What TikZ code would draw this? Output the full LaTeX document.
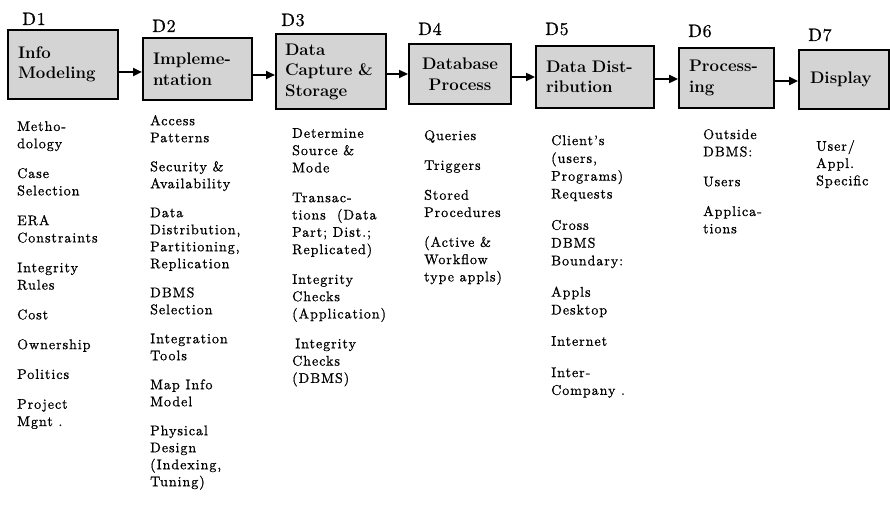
\documentclass[tikz,border=0pt]{standalone}
\usepackage{fontspec}
\usetikzlibrary{arrows.meta}
\newfontfamily\listfont{lmroman10-regular.otf}[LetterSpace=7,FakeBold=0.9]
\newfontfamily\tagfont{lmroman10-regular.otf}[LetterSpace=4,FakeBold=0.6]
\begin{document}
\begin{tikzpicture}[x=1pt,y=-1pt,
  box/.style={draw=black, line width=2pt, fill=black!17, anchor=north west, inner sep=0pt,
    font=\fontsize{16.8}{20.5}\selectfont\bfseries, align=left},
  tag/.style={anchor=base west, inner sep=0pt, font=\tagfont\fontsize{18}{20}\selectfont},
  list/.style={anchor=north west, inner sep=0pt, align=left, font=\listfont\fontsize{14}{17.3}\selectfont,
    execute at begin node=\rule{0pt}{11pt}},
  arr/.style={line width=2.4pt, -{Triangle[length=9pt,width=8pt]}}]
\useasboundingbox (0,0) rectangle (890,516);
\def\g{12.5pt}
% boxes
\node[box, minimum width=110, minimum height=69, text width=90] (d1) at (7,29) {Info\\Modeling};
\node[box, minimum width=109, minimum height=62, text width=89] (d2) at (142,37) {Impleme-\\ntation};
\node[box, minimum width=110, minimum height=75, text width=92] (d3) at (275,33) {Data\\Capture~\&\\Storage};
\node[box, minimum width=102, minimum height=60, text width=82, align=center] (d4) at (408,43) {Database\\Process};
\node[box, minimum width=118, minimum height=62, text width=98] (d5) at (535,45) {Data~Dist-\\ribution};
\node[box, minimum width=95, minimum height=60, text width=75] (d6) at (678,47) {Process-\\ing};
\node[box, minimum width=90, minimum height=59, text width=68] (d7) at (798,49) {Display};
% tags
\node[tag] (t1) at (22,25) {D1};
\node[tag] (t2) at (152,32) {D2};
\node[tag] (t3) at (281,26) {D3};
\node[tag] (t4) at (418,35) {D4};
\node[tag] (t5) at (545,35) {D5};
\node[tag] (t6) at (688,37) {D6};
\node[tag] (t7) at (808,41) {D7};
% arrows
\draw[arr] (d1.east |- 0,72) -- (d2.west |- 0,72);
\draw[arr] (d2.east |- 0,75) -- (d3.west |- 0,75);
\draw[arr] (d3.east |- 0,74) -- (d4.west |- 0,74);
\draw[arr] (d4.east |- 0,77) -- (d5.west |- 0,77);
\draw[arr] (d5.east |- 0,79) -- (d6.west |- 0,79);
\draw[arr] (d6.east |- 0,81) -- (d7.west |- 0,81);
% lists (y = first baseline - 11)
\node[list] (l1) at (17,121) {Metho-\\dology\\[\g]Case\\Selection\\[\g]ERA\\Constraints\\[\g]Integrity\\Rules\\[\g]Cost\\[\g]Ownership\\[\g]Politics\\[\g]Project\\Mgnt .};
\node[list, font=\listfont\fontsize{14}{17}\selectfont] (l2) at (150,115) {Access\\Patterns\\[12pt]Security \&\\Availability\\[12pt]Data\\Distribution,\\Partitioning,\\Replication\\[12pt]DBMS\\Selection\\[12pt]Integration\\Tools\\[12pt]Map Info\\Model\\[12pt]Physical\\Design\\(Indexing,\\Tuning)};
\node[list] (l3) at (292,128) {Determine\\Source \&\\Mode\\[\g]Transac-\\tions~~(Data\\Part; Dist.;\\Replicated)\\[\g]Integrity\\Checks\\(Application)\\[\g]\hspace{3pt}Integrity\\Checks\\(DBMS)};
\node[list] (l4) at (424,130) {Queries\\[\g]Triggers\\[\g]Stored\\Procedures\\[\g](Active \&\\Workflow\\type appls)};
\node[list, font=\listfont\fontsize{14}{17.8}\selectfont] (l5) at (551,135) {Client’s\\(users,\\Programs)\\Requests\\[13.5pt]Cross\\DBMS\\Boundary:\\[13.5pt]Appls\\Desktop\\[13.5pt]Internet\\[13.5pt]Inter-\\Company .};
\node[list] (l6) at (703,129) {Outside\\DBMS:\\[\g]Users\\[\g]Applica-\\tions};
\node[list] (l7) at (816,140) {User/\\Appl.\\Specific};
\end{tikzpicture}
\end{document}
